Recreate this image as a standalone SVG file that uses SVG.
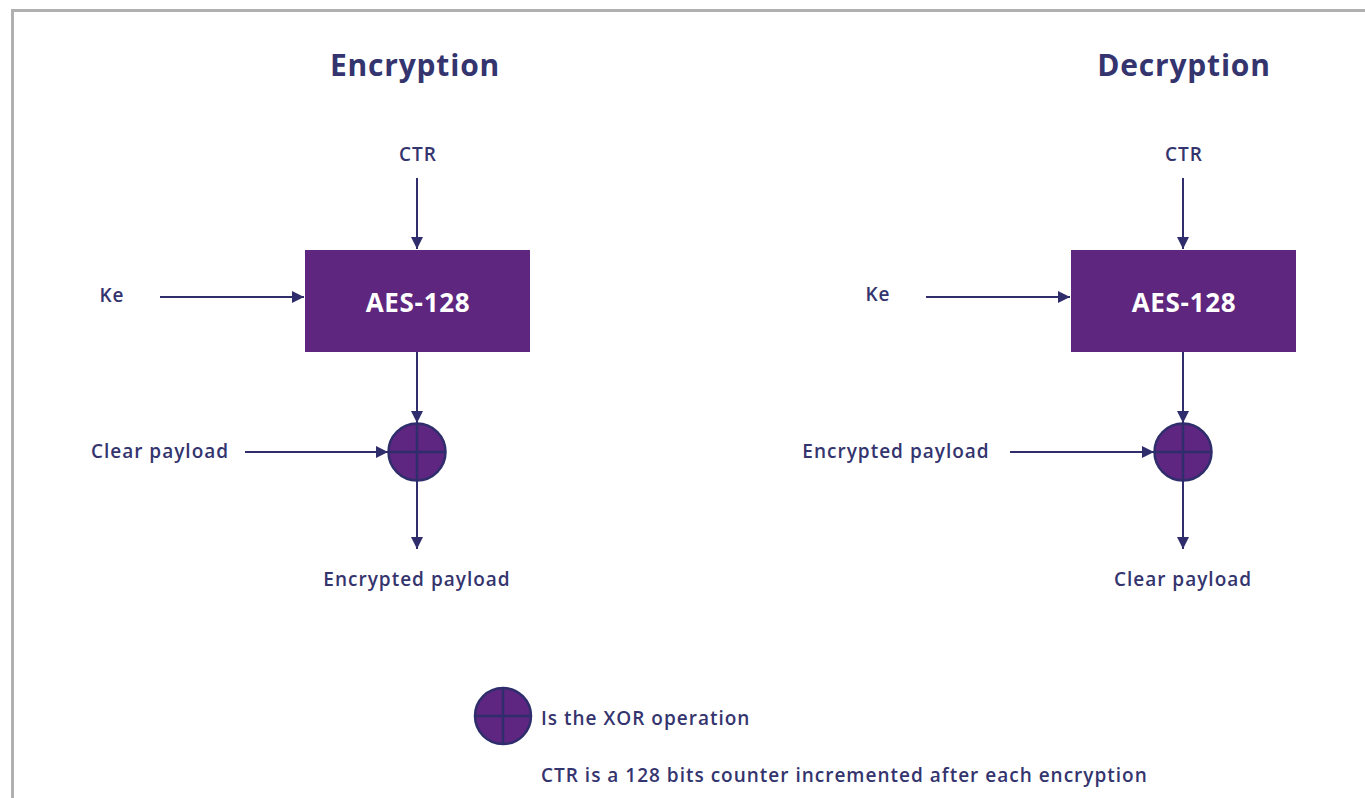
<svg xmlns="http://www.w3.org/2000/svg" width="1365" height="798" viewBox="0 0 1365 798">
<defs>
<style>
.t{font-family:"Open Sans","Noto Sans",sans-serif;fill:#34346e;font-weight:600}
.title{font-size:30px;font-weight:700;letter-spacing:0.8px}
.lbl{font-size:19px;letter-spacing:1px}
.box{fill:#5e267e}
.boxt{font-family:"Open Sans","Noto Sans",sans-serif;fill:#ffffff;font-size:26px;font-weight:700;letter-spacing:0.7px}
.ln{stroke:#2f2d6c;stroke-width:2;fill:none}
.xor{fill:#5e2680;stroke:#2f2d6c;stroke-width:2.5}
.cross{stroke:#2f2d6c;stroke-width:2.5}
</style>
<marker id="ah" viewBox="0 0 10 10" refX="10" refY="5" markerWidth="6" markerHeight="6" markerUnits="strokeWidth" orient="auto">
<path d="M0,0 L10,5 L0,10 z" fill="#2f2d6c"/>
</marker>
</defs>
<rect x="0" y="0" width="1365" height="798" fill="#ffffff"/>
<rect x="12.5" y="10.5" width="1400" height="820" fill="none" stroke="#b0b0b0" stroke-width="3"/>

<g id="titles">
<text class="t title" x="415" y="76" text-anchor="middle">Encryption</text>
<text class="t title" x="1184" y="76" text-anchor="middle">Decryption</text>
</g>

<g id="enc-ctr"><text class="t lbl" x="418" y="161" text-anchor="middle">CTR</text></g>
<g id="enc-ke"><text class="t lbl" x="112" y="302" text-anchor="middle">Ke</text></g>
<g id="enc-aes">
<rect class="box" x="305" y="250" width="225" height="102"/>
<text class="boxt" x="418" y="312" text-anchor="middle">AES-128</text>
</g>
<g id="enc-xor">
<circle class="xor" cx="417" cy="452" r="28.5"/>
<line class="cross" x1="388.5" y1="452" x2="445.5" y2="452"/>
<line class="cross" x1="417" y1="423.5" x2="417" y2="480.5"/>
</g>
<g id="enc-in"><text class="t lbl" x="160" y="458" text-anchor="middle">Clear payload</text></g>
<g id="enc-out"><text class="t lbl" x="417" y="586" text-anchor="middle">Encrypted payload</text></g>

<g id="dec-ctr"><text class="t lbl" x="1184" y="161" text-anchor="middle">CTR</text></g>
<g id="dec-ke"><text class="t lbl" x="878" y="301" text-anchor="middle">Ke</text></g>
<g id="dec-aes">
<rect class="box" x="1071" y="250" width="225" height="102"/>
<text class="boxt" x="1184" y="312" text-anchor="middle">AES-128</text>
</g>
<g id="dec-xor">
<circle class="xor" cx="1183" cy="452" r="28.5"/>
<line class="cross" x1="1154.5" y1="452" x2="1211.5" y2="452"/>
<line class="cross" x1="1183" y1="423.5" x2="1183" y2="480.5"/>
</g>
<g id="dec-in"><text class="t lbl" x="896" y="458" text-anchor="middle">Encrypted payload</text></g>
<g id="dec-out"><text class="t lbl" x="1183" y="586" text-anchor="middle">Clear payload</text></g>

<g id="legend">
<circle class="xor" cx="503" cy="716" r="28"/>
<line class="cross" x1="475" y1="716" x2="531" y2="716"/>
<line class="cross" x1="503" y1="688" x2="503" y2="744"/>
<text class="t lbl" x="541" y="725">Is the XOR operation</text>
<text class="t lbl" x="541" y="782">CTR is a 128 bits counter incremented after each encryption</text>
</g>

<g id="connectors">
<line class="ln" x1="417" y1="178" x2="417" y2="249" marker-end="url(#ah)"/>
<line class="ln" x1="160" y1="297" x2="304" y2="297" marker-end="url(#ah)"/>
<line class="ln" x1="417" y1="352" x2="417" y2="423" marker-end="url(#ah)"/>
<line class="ln" x1="245" y1="452" x2="388" y2="452" marker-end="url(#ah)"/>
<line class="ln" x1="417" y1="481" x2="417" y2="549" marker-end="url(#ah)"/>

<line class="ln" x1="1183" y1="178" x2="1183" y2="249" marker-end="url(#ah)"/>
<line class="ln" x1="926" y1="297" x2="1070" y2="297" marker-end="url(#ah)"/>
<line class="ln" x1="1183" y1="352" x2="1183" y2="423" marker-end="url(#ah)"/>
<line class="ln" x1="1010" y1="452" x2="1154" y2="452" marker-end="url(#ah)"/>
<line class="ln" x1="1183" y1="481" x2="1183" y2="549" marker-end="url(#ah)"/>
</g>
</svg>
